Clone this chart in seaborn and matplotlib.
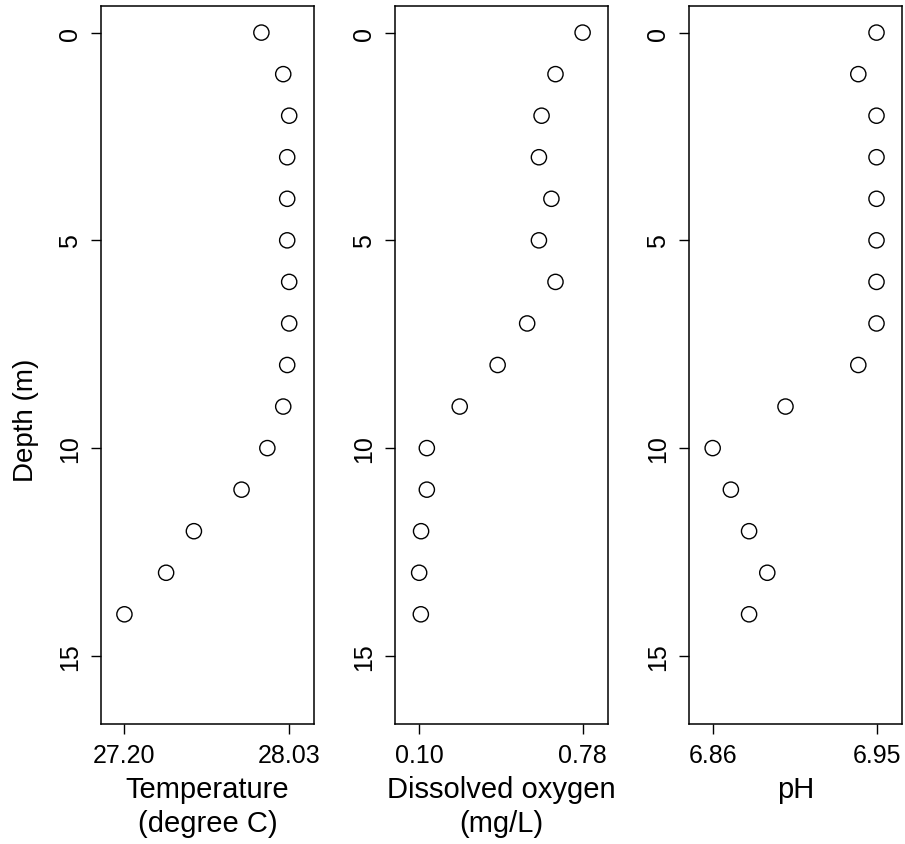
import numpy as np
import pandas as pd
import matplotlib
matplotlib.use("Agg")
import matplotlib.pyplot as plt
import seaborn as sns

depth = [0, 1, 2, 3, 4, 5, 6, 7, 8, 9, 10, 11, 12, 13, 14]
temperature = [27.89, 28.00, 28.03, 28.02, 28.02, 28.02, 28.03, 28.03, 28.02, 28.00,
               27.92, 27.79, 27.55, 27.41, 27.20]
dissolved_oxygen = [0.78, 0.667, 0.609, 0.598, 0.650, 0.598, 0.667, 0.549, 0.426, 0.268,
                    0.131, 0.131, 0.107, 0.099, 0.106]
ph = [6.95, 6.94, 6.95, 6.95, 6.95, 6.95, 6.95, 6.95, 6.94, 6.90,
      6.86, 6.87, 6.88, 6.89, 6.88]

y_ticks = [0, 5, 10, 15]
panels = [
    ("temperature", temperature, [27.20, 28.03], ["27.20", "28.03"], "Temperature\n(degree C)", (27.082, 28.155)),
    ("dissolved_oxygen", dissolved_oxygen, [0.10, 0.78], ["0.10", "0.78"], "Dissolved oxygen\n(mg/L)", (-0.0037, 0.8837)),
    ("ph", ph, [6.86, 6.95], ["6.86", "6.95"], "pH", (6.847, 6.964)),
]

df = pd.DataFrame({"depth": depth, "temperature": temperature,
                   "dissolved_oxygen": dissolved_oxygen, "ph": ph})

sns.set_style("white")
plt.rcParams["font.family"] = ["Liberation Sans", "DejaVu Sans"]
plt.rcParams["text.color"] = "black"
plt.rcParams["axes.labelcolor"] = "black"
plt.rcParams["xtick.color"] = "black"
plt.rcParams["ytick.color"] = "black"

W, H = 905, 845
fig = plt.figure(figsize=(W / 100, H / 100), dpi=100)

lefts = [101, 394.5, 689]
width = 213
top_px, bottom_px = 7, 725

for i, (col, vals, xt, xtl, xlabel, xlim) in enumerate(panels):
    ax = fig.add_axes([lefts[i] / W, 1 - bottom_px / H, width / W, (bottom_px - top_px) / H])
    sns.scatterplot(data=df, x=col, y="depth", ax=ax, s=120, marker="o",
                    facecolor="none", edgecolor="black", linewidth=1.0)
    ax.set_xlim(*xlim)
    ax.set_ylim(16.64, -0.64)
    ax.set_xticks(xt)
    ax.set_xticklabels(xtl, fontsize=18)
    ax.set_yticks(y_ticks)
    ax.set_yticklabels([str(t) for t in y_ticks], fontsize=18, rotation=90, va="center")
    ax.tick_params(axis="both", direction="out", length=7.5, width=1.0, color="black",
                   left=True, bottom=True)
    ax.tick_params(axis="y", pad=6)
    ax.tick_params(axis="x", pad=6)
    for sp in ax.spines.values():
        sp.set_visible(True)
        sp.set_color("black")
        sp.set_linewidth(1.1)
    ax.set_xlabel(xlabel, fontsize=21, linespacing=1.25, labelpad=6)
    if i == 0:
        ax.set_ylabel("Depth (m)", fontsize=20, labelpad=14, y=0.425)
    else:
        ax.set_ylabel("")
    ax.grid(False)

fig.savefig("out.png", dpi=100, facecolor="white")
